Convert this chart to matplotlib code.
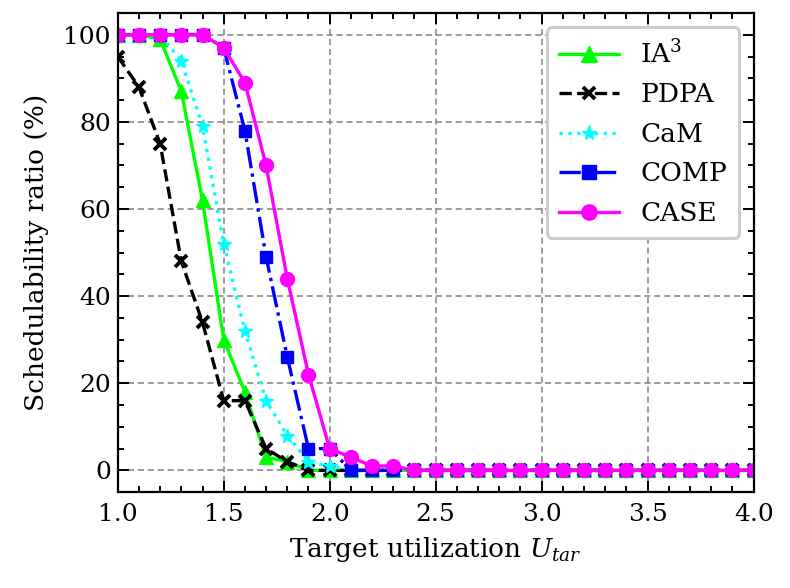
## Libraries
import numpy as np
import matplotlib
matplotlib.use("Agg")
import matplotlib.pyplot as plt
from matplotlib.ticker import MultipleLocator

## Data
u_tar = [round(1.0 + 0.1 * i, 1) for i in range(31)]
tail = [0] * 20

ia3 = [100, 100, 99, 87, 62, 30, 18, 3, 2, 0, 0] + tail
pdpa = [95, 88, 75, 48, 34, 16, 16, 5, 2, 0, 0] + tail
cam = [100, 100, 100, 94, 79, 52, 32, 16, 8, 2, 1] + tail
comp = [100, 100, 100, 100, 100, 97, 78, 49, 26, 5, 5] + tail
case = [100, 100, 100, 100, 100, 97, 89, 70, 44, 22, 5, 3, 1, 1] + [0] * 17

## Style
plt.rcParams['font.family'] = ['DejaVu Serif']
plt.rcParams['mathtext.fontset'] = 'dejavuserif'
plt.rcParams['font.size'] = 18

fig = plt.figure(figsize=(7.9, 5.88), dpi=100)
ax = fig.add_axes([0.149, 0.163, 0.805, 0.815])

ax.plot(u_tar, ia3, color="#00ff00", ls="-", lw=2.4, marker="^", ms=10, label=r"IA$^3$")
ax.plot(u_tar, pdpa, color="black", ls="--", lw=2.4, marker="x", ms=8, mew=2.8, label="PDPA")
ax.plot(u_tar, cam, color="#00ffff", ls=":", lw=2.4, marker="*", ms=10, label="CaM")
ax.plot(u_tar, comp, color="#0000ff", ls="-.", lw=2.4, marker="s", ms=9, label="COMP")
ax.plot(u_tar, case, color="#ff00ff", ls="-", lw=2.4, marker="o", ms=10, label="CASE")

ax.set_xlim(1.0, 4.0)
ax.set_ylim(-5, 105)
ax.xaxis.set_major_locator(MultipleLocator(0.5))
ax.xaxis.set_minor_locator(MultipleLocator(0.1))
ax.yaxis.set_major_locator(MultipleLocator(20))
ax.yaxis.set_minor_locator(MultipleLocator(5))
ax.tick_params(which="both", direction="in", top=True, right=True, width=1.4, labelsize=18)
ax.tick_params(which="major", length=8)
ax.tick_params(axis="x", which="major", pad=8)
ax.tick_params(axis="y", which="major", pad=5)
ax.tick_params(which="minor", length=4.5)
for s in ax.spines.values():
    s.set_linewidth(1.6)

ax.grid(True, which="major", ls=(0, (4, 2.5)), color="gray", lw=1.1)
ax.set_xlabel(r"Target utilization $U_{tar}$", fontsize=19, labelpad=6)
ax.set_ylabel("Schedulability ratio (%)", fontsize=19, labelpad=10)

leg = ax.legend(loc="upper right", fontsize=19, framealpha=1.0, edgecolor="#cccccc",
                handlelength=2.3, borderpad=0.45, labelspacing=0.55, handletextpad=0.8,
                borderaxespad=0.55, markerscale=1.1)
leg.get_frame().set_linewidth(2.2)

fig.savefig("out.png", dpi=100)
